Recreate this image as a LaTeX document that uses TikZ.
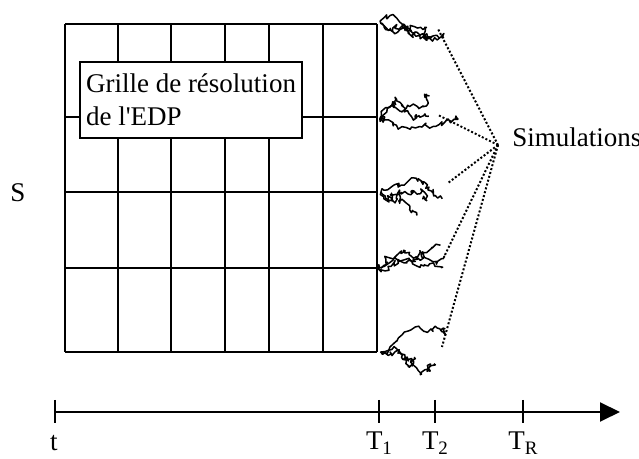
\documentclass[tikz,border=0pt]{standalone}
\usepackage{fontspec}
\setmainfont{Liberation Serif}
\usetikzlibrary{arrows.meta}

\newcommand\lowsub[1]{\raisebox{-2.5pt}{\fontsize{9.5}{9.5}\selectfont #1}}

\tikzset{
  gridline/.style={line width=1pt},
  walk/.style={line width=0.75pt, line join=round},
  simlink/.style={line width=1pt, dash pattern=on 1pt off 1pt},
  lbl/.style={font=\fontsize{13.5}{16.5}\selectfont, inner sep=0pt, anchor=base},
  edpbox/.style={draw, fill=white, line width=1pt, align=left,
    font=\fontsize{13.5}{16.5}\selectfont,
    inner xsep=3pt, minimum width=111pt, minimum height=38pt},
}

\begin{document}
\begin{tikzpicture}[x=0.5pt, y=-0.5pt]
  \useasboundingbox (0,0) rectangle (639,459);

  % grid
  \foreach \x in {65,118,171,225,269,323,377}
    \draw[gridline] (\x,24) -- (\x,352);
  \foreach \y in {24,117,192,268,352}
    \draw[gridline] (65,\y) -- (377,\y);

  \node[edpbox, anchor=west] (edp) at (79,100)
    {Grille de résolution\\de l\textquotesingle EDP};
  \node[lbl] (S) at (18,202) {S};

  % paths starting at T1
  \foreach \y [count=\i] in {24,117,192,268,352} {
    \coordinate (start\i) at (381,\y);
    \foreach \s in {1,2,3} {
      \pgfmathtruncatemacro\seed{\i*11+\s*5}
      \pgfmathsetseed{\seed}
      \draw[walk] (start\i) \foreach \k in {1,...,36}{ -- ++({1.35+3.2*rand},{4*rand}) };
    }
  }

  \coordinate (hub) at (498,145);
  \coordinate (end1) at (438,29);
  \coordinate (end2) at (438,115);
  \coordinate (end3) at (448,183);
  \coordinate (end4) at (444,257);
  \coordinate (end5) at (442,347);
  \foreach \i in {1,...,5}
    \draw[simlink] (hub) -- (end\i);
  \node[lbl, anchor=base west] (Sim) at (512,147) {Simulations};

  % time axis
  \coordinate (t0) at (55,412);
  \coordinate (tend) at (620,412);
  \draw[line width=1pt, -{Triangle[length=10pt,width=9.5pt]}] (t0) -- (tend);
  \foreach \x in {55,379,435,523}
    \draw[line width=1pt] (\x,400) -- (\x,423);
  \node[lbl] (t) at (54,451) {t};
  \node[lbl] (T1) at (379,450) {T\lowsub{1}};
  \node[lbl] (T2) at (435,450) {T\lowsub{2}};
  \node[lbl] (TR) at (523,450) {T\lowsub{R}};
\end{tikzpicture}
\end{document}
